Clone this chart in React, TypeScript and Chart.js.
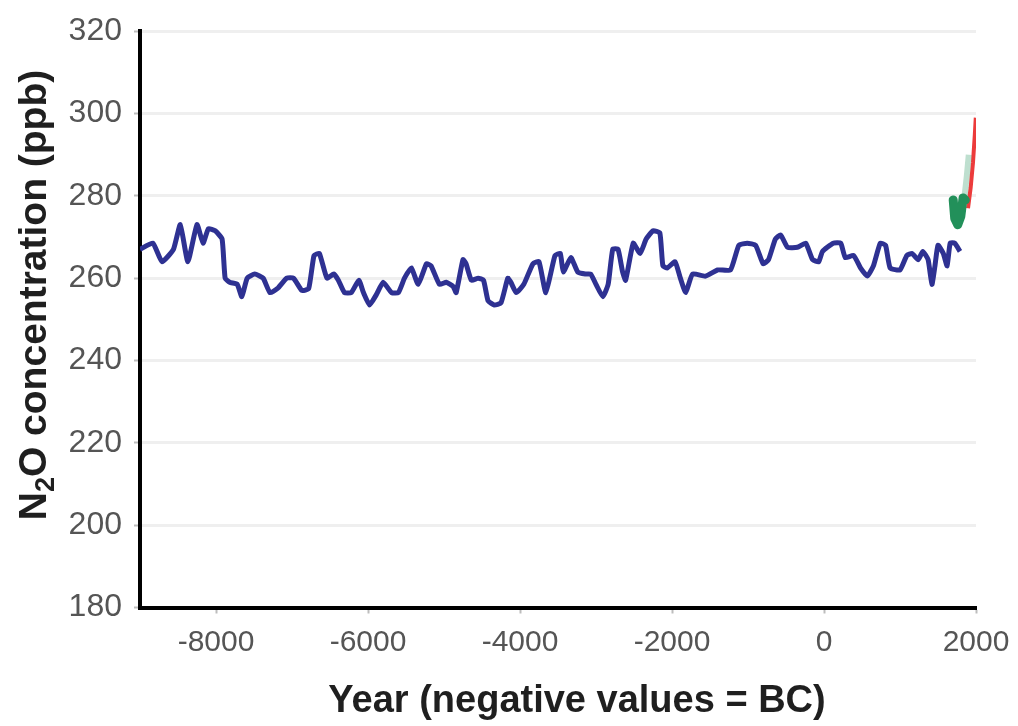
import React, { useEffect, useRef } from 'react';
import { Chart, registerables } from 'chart.js';

Chart.register(...registerables);

// Ice-core N2O record (blue), historical records (green), modern measurements (red)
const BLUE_YEARS = [
  -9000, -8830, -8710, -8560, -8470, -8370, -8250, -8170, -8100, -8010,
  -7920, -7880, -7820, -7720, -7660, -7590, -7490, -7380, -7290, -7190,
  -7070, -6980, -6870, -6780, -6710, -6640, -6540, -6450, -6390, -6310,
  -6220, -6120, -6060, -5980, -5890, -5800, -5690, -5600, -5520, -5430,
  -5340, -5230, -5170, -5060, -4970, -4880, -4840, -4750, -4710, -4640,
  -4550, -4480, -4420, -4340, -4250, -4160, -4120, -4050, -3950, -3830,
  -3750, -3660, -3540, -3470, -3430, -3330, -3240, -3140, -3070, -3000,
  -2910, -2840, -2780, -2710, -2650, -2610, -2510, -2420, -2340, -2250,
  -2160, -2120, -2060, -1960, -1890, -1820, -1730, -1560, -1400, -1230,
  -1120, -1010, -900, -800, -730, -640, -570, -480, -350, -240,
  -150, -70, -20, 120, 220, 280, 390, 480, 570, 650,
  740, 810, 870, 1000, 1090, 1160, 1240, 1300, 1370, 1420,
  1460, 1500, 1570, 1620, 1660, 1720, 1790,
];
const BLUE_N2O = [
  267, 268.5, 264, 267, 273, 264, 273, 268.5, 272, 271.5,
  269.5, 260, 259, 258.5, 255.5, 260, 261, 260, 256.5, 257.5,
  260, 260, 257, 257.5, 265.5, 266, 260, 261, 259.5, 256.5,
  256.5, 259.5, 256.5, 253.5, 256, 259, 256.5, 256.5, 260, 262.5,
  258.5, 263.5, 263, 258.5, 259, 258, 256.5, 264.5, 263.5, 259.5,
  260, 259.5, 254.5, 253.5, 254, 260, 259, 256.5, 258.5, 263.5,
  264, 256.5, 265.5, 266, 261.5, 265, 261.5, 261, 261, 258.5,
  255.5, 258.5, 267, 267, 261.5, 259.5, 268.5, 266, 269.5, 271.5,
  271, 263, 262.5, 264, 260, 256.5, 261, 260.5, 262, 262,
  268, 268.5, 268, 263.5, 264.5, 269.5, 270.5, 267.5, 267.5, 268.5,
  264.5, 264, 266.5, 268.5, 268.5, 265, 265.5, 262.5, 260.5, 263,
  268.5, 268, 262.5, 262, 265.5, 266, 264.5, 266.5, 264.5, 258.5,
  263, 268, 266, 263, 268.5, 268.5, 266.5,
];

const GREEN_YEARS = [1700, 1720, 1760, 1800, 1830, 1860];
const GREEN_N2O = [279, 274.5, 273, 275, 279.5, 279];

const GREEN_FAINT_YEARS = [1850, 1880, 1905];
const GREEN_FAINT_N2O = [280, 285, 290];

const RED_YEARS = [1895, 1930, 1960, 1985, 1997];
const RED_N2O = [277, 282, 288, 295, 299];

const X_TICKS = [-8000, -6000, -4000, -2000, 0, 2000];
const X_MIN = -9000;
const X_MAX = 2000;
const Y_MIN = 180;
const Y_MAX = 320;
const Y_STEP = 20;

const X_TITLE = 'Year (negative values = BC)';
const Y_TITLE_MAIN = 'N';
const Y_TITLE_SUB = '2';
const Y_TITLE_REST = 'O concentration (ppb)';

const FONT = '"Liberation Sans", Arial, Helvetica, sans-serif';

const toPoints = (xs: number[], ys: number[]) => xs.map((x, i) => ({ x, y: ys[i] }));

const titlesPlugin = {
  id: 'axisTitles',
  afterDraw(chart: any) {
    const { ctx, chartArea } = chart;
    ctx.save();
    ctx.fillStyle = '#1f1f1f';
    // x title
    ctx.font = `bold 38px ${FONT}`;
    ctx.textAlign = 'center';
    ctx.textBaseline = 'alphabetic';
    ctx.fillText(X_TITLE, chartArea.left + 437, 712);
    // y title (rotated, with subscript)
    const big = `bold 39px ${FONT}`;
    const small = `bold 27px ${FONT}`;
    ctx.font = big;
    const wN = ctx.measureText(Y_TITLE_MAIN).width;
    const wR = ctx.measureText(Y_TITLE_REST).width;
    ctx.font = small;
    const w2 = ctx.measureText(Y_TITLE_SUB).width;
    const total = wN + w2 + wR;
    ctx.translate(32, 295);
    ctx.rotate(-Math.PI / 2);
    ctx.textAlign = 'left';
    let x = -total / 2;
    ctx.font = big;
    ctx.fillText(Y_TITLE_MAIN, x, 14);
    x += wN;
    ctx.font = small;
    ctx.fillText(Y_TITLE_SUB, x, 22);
    x += w2;
    ctx.font = big;
    ctx.fillText(Y_TITLE_REST, x, 14);
    ctx.restore();
  },
};

export default function App() {
  const canvasRef = useRef<HTMLCanvasElement | null>(null);

  useEffect(() => {
    if (!canvasRef.current) return;
    const chart = new Chart(canvasRef.current, {
      type: 'line',
      data: {
        datasets: [
          {
            label: 'Ice core',
            data: toPoints(BLUE_YEARS, BLUE_N2O),
            borderColor: '#2e3192',
            borderWidth: 5,
            pointRadius: 0,
            tension: 0.15,
            fill: false,
          },
          {
            label: 'Historical faint',
            data: toPoints(GREEN_FAINT_YEARS, GREEN_FAINT_N2O),
            borderColor: 'rgba(40,150,95,0.3)',
            borderWidth: 6,
            pointRadius: 0,
            fill: false,
          },
          {
            label: 'Historical',
            data: toPoints(GREEN_YEARS, GREEN_N2O),
            borderColor: '#22905a',
            borderWidth: 9,
            borderCapStyle: 'round',
            borderJoinStyle: 'round',
            pointRadius: 0,
            tension: 0,
            fill: false,
          },
          {
            label: 'Modern',
            data: toPoints(RED_YEARS, RED_N2O),
            borderColor: '#ec3b3b',
            borderWidth: 4,
            pointRadius: 0,
            tension: 0,
            fill: false,
          },
        ],
      },
      options: {
        animation: false,
        responsive: true,
        maintainAspectRatio: false,
        layout: { padding: { top: 21, right: 42, left: 0, bottom: 0 } },
        plugins: {
          legend: { display: false },
          tooltip: { enabled: false },
        },
        scales: {
          x: {
            type: 'linear',
            min: X_MIN,
            max: X_MAX,
            afterBuildTicks: (scale: any) => {
              scale.ticks = X_TICKS.map((v) => ({ value: v }));
            },
            afterFit: (scale: any) => {
              scale.height = 118.5;
              scale.paddingLeft = 0;
              scale.paddingRight = 0;
            },
            ticks: {
              callback: (v: any) => String(v),
              color: '#555555',
              font: { size: 30, family: FONT },
              padding: 11,
              maxRotation: 0,
              autoSkip: false,
            },
            grid: {
              drawOnChartArea: false,
              drawTicks: true,
              tickLength: 6,
              tickColor: '#bdbdbd',
              tickWidth: 2,
            },
            border: { display: true, color: '#000000', width: 4 },
          },
          y: {
            type: 'linear',
            min: Y_MIN,
            max: Y_MAX,
            afterFit: (scale: any) => {
              scale.width = 140;
            },
            ticks: {
              stepSize: Y_STEP,
              callback: (v: any) => String(v),
              color: '#555555',
              font: { size: 32, family: FONT },
              padding: 12,
            },
            grid: {
              color: '#efefef',
              lineWidth: 3,
              drawTicks: true,
              tickLength: 6,
              tickColor: '#bdbdbd',
              tickWidth: 2,
            },
            border: { display: true, color: '#000000', width: 4 },
          },
        },
      },
      plugins: [titlesPlugin],
    });
    return () => chart.destroy();
  }, []);

  return (
    <div style={{ position: 'absolute', left: 0, top: 0, width: 1018, height: 726, background: '#ffffff' }}>
      <canvas ref={canvasRef} />
    </div>
  );
}
